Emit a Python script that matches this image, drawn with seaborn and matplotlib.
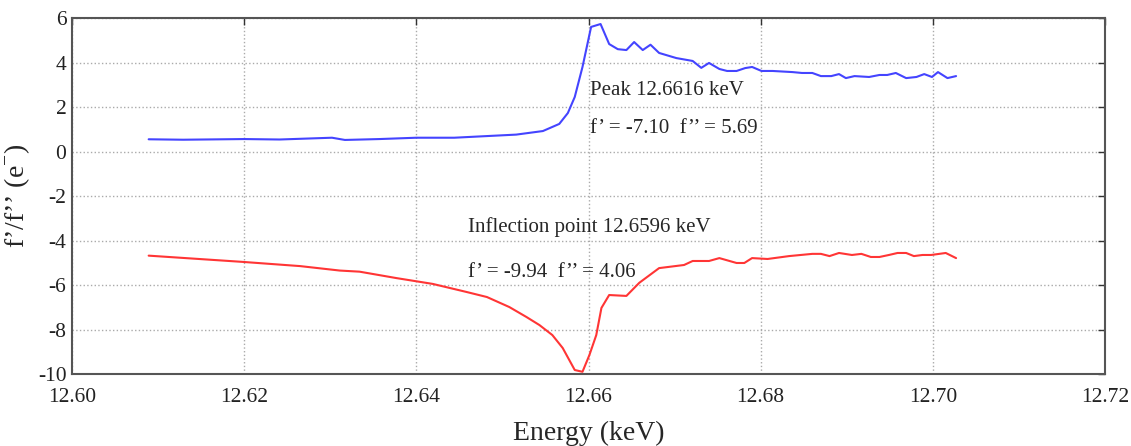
import numpy as np
import pandas as pd
import matplotlib
matplotlib.use("Agg")
import matplotlib.pyplot as plt
import seaborn as sns

# f' (blue) curve
energy_fpp = [12.6089, 12.6129, 12.6200, 12.6241, 12.6302, 12.6317, 12.6357, 12.6400,
              12.6444, 12.6485, 12.6516, 12.6547, 12.6566, 12.6576, 12.6584, 12.6593,
              12.6603, 12.6614, 12.6624, 12.6634, 12.6644, 12.6653, 12.6663, 12.6672,
              12.6682, 12.6702, 12.6721, 12.6731, 12.6740, 12.6752, 12.6761, 12.6772,
              12.6782, 12.6790, 12.6801, 12.6814, 12.6837, 12.6848, 12.6860, 12.6870,
              12.6882, 12.6891, 12.6899, 12.6909, 12.6926, 12.6938, 12.6947, 12.6957,
              12.6969, 12.6981, 12.6990, 12.6999, 12.7006, 12.7017, 12.7027]
fpp = [0.55, 0.53, 0.56, 0.54, 0.62, 0.52, 0.56, 0.62,
       0.62, 0.70, 0.76, 0.92, 1.24, 1.73, 2.45, 3.80,
       5.60, 5.73, 4.83, 4.60, 4.56, 4.92, 4.56, 4.80,
       4.43, 4.20, 4.07, 3.76, 3.98, 3.71, 3.62, 3.62,
       3.75, 3.80, 3.62, 3.62, 3.57, 3.53, 3.53, 3.39,
       3.39, 3.48, 3.30, 3.39, 3.35, 3.44, 3.44, 3.53,
       3.30, 3.35, 3.48, 3.35, 3.57, 3.30, 3.39]

# f' (red) curve
energy_fp = [12.6089, 12.6198, 12.6265, 12.6311, 12.6334, 12.6377, 12.6419, 12.6458,
             12.6482, 12.6508, 12.6528, 12.6543, 12.6558, 12.6570, 12.6584, 12.6593,
             12.6601, 12.6609, 12.6615, 12.6624, 12.6644, 12.6659, 12.6682, 12.6711,
             12.6721, 12.6740, 12.6752, 12.6772, 12.6781, 12.6790, 12.6808, 12.6833,
             12.6860, 12.6870, 12.6880, 12.6891, 12.6906, 12.6917, 12.6928, 12.6938,
             12.6949, 12.6959, 12.6969, 12.6978, 12.6988, 12.6998, 12.7015, 12.7027]
fp = [-4.68, -4.96, -5.15, -5.35, -5.40, -5.69, -5.95, -6.31,
      -6.54, -6.99, -7.44, -7.80, -8.25, -8.83, -9.82, -9.90,
      -9.15, -8.25, -7.03, -6.45, -6.49, -5.90, -5.24, -5.10,
      -4.92, -4.92, -4.79, -5.01, -5.01, -4.79, -4.83, -4.70,
      -4.60, -4.60, -4.70, -4.56, -4.65, -4.60, -4.74, -4.74,
      -4.65, -4.56, -4.56, -4.70, -4.65, -4.65, -4.56, -4.79]

x_ticks = [12.60, 12.62, 12.64, 12.66, 12.68, 12.70, 12.72]
y_ticks = [-10, -8, -6, -4, -2, 0, 2, 4, 6]

sns.set_style("white")
plt.rcParams['font.family'] = ['Liberation Serif', 'DejaVu Serif']
plt.rcParams['mathtext.fontset'] = 'custom'
plt.rcParams['mathtext.rm'] = 'Liberation Serif'
plt.rcParams['axes.unicode_minus'] = False

df_fpp = pd.DataFrame({"energy": energy_fpp, "value": fpp})
df_fp = pd.DataFrame({"energy": energy_fp, "value": fp})

fig = plt.figure(figsize=(11.31, 4.46), dpi=100)
ax = fig.add_axes([0.0637, 0.1614, 0.9133, 0.7982])

sns.lineplot(data=df_fpp, x="energy", y="value", ax=ax, color="#4444ff", linewidth=1.5)
sns.lineplot(data=df_fp, x="energy", y="value", ax=ax, color="#ff3535", linewidth=1.5)

ax.set_xlim(12.60, 12.72)
ax.set_ylim(-10, 6)
ax.set_xticks(x_ticks)
ax.set_xticklabels([f"{t:.2f}" for t in x_ticks])
ax.set_yticks(y_ticks)
ax.tick_params(direction="in", length=5, width=1, colors="#333333", labelsize=15.5,
               top=True, right=True, labelcolor="#222222")
ax.tick_params(axis="x", pad=10)
ax.tick_params(axis="y", pad=4)
ax.grid(True, linestyle=":", color="#aaaaaa", linewidth=1)
for s in ax.spines.values():
    s.set_color("#555555")
    s.set_linewidth(1.5)

ax.set_xlabel("Energy (keV)", fontsize=20, labelpad=10)
ax.set_ylabel("f’/f’’ (e$^{-}$)", fontsize=20, labelpad=4)

ax.text(12.6602, 2.76, "Peak 12.6616 keV", fontsize=15, va="center", ha="left")
ax.text(12.6602, 1.05, "f’ = -7.10  f’’ = 5.69", fontsize=15, va="center", ha="left")
ax.text(12.6460, -3.39, "Inflection point 12.6596 keV", fontsize=15, va="center", ha="left")
ax.text(12.6460, -5.42, "f’ = -9.94  f’’ = 4.06", fontsize=15, va="center", ha="left")

fig.savefig("out.png", dpi=100)
